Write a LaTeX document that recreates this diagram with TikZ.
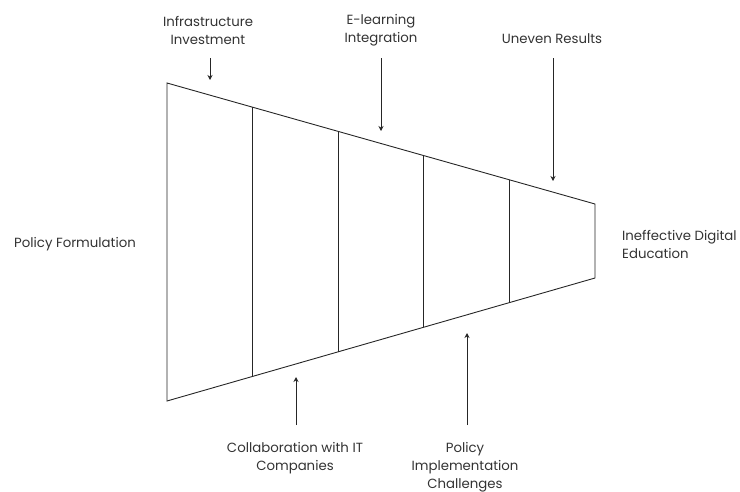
\documentclass[tikz,border=0pt]{standalone}
\usepackage{fontspec}
\setmainfont{Poppins}
\usetikzlibrary{arrows.meta,calc}
\begin{document}
\begin{tikzpicture}[x=1pt,y=-1pt,
  stage/.style={draw=black!85,line width=0.9pt},
  lbl/.style={font=\fontsize{13.3}{18}\selectfont,text=black!80,align=center,inner sep=0pt},
  ptr/.style={draw=black!85,line width=0.9pt,-{Stealth[length=5pt,width=5pt]}}]
\useasboundingbox (0,0) rectangle (740,491);
% funnel corners
\coordinate (tl) at (167,83);
\coordinate (bl) at (167,401);
\coordinate (tr) at (595,204);
\coordinate (br) at (595,278);
\draw[stage] (tl) -- (tr) -- (br) -- (bl) -- cycle;
% stage dividers
\foreach \i in {1,2,3,4}{
  \draw[stage] ($(tl)!\i/5!(tr)$) -- ($(bl)!\i/5!(br)$);
}
% labels
\node[lbl] (infra) at (208,30) {Infrastructure\\Investment};
\node[lbl] (elearn) at (381,30) {E-learning\\Integration};
\node[lbl] (uneven) at (552,39) {Uneven Results};
\node[lbl,anchor=west] (policy) at (14,244) {Policy Formulation};
\node[lbl,anchor=west,align=left] (ineff) at (622,244) {Ineffective Digital\\Education};
\node[lbl] (collab) at (295,458) {Collaboration with IT\\Companies};
\node[lbl] (impl) at (465,467) {Policy\\Implementation\\Challenges};
% pointer ends
\coordinate (s1) at (210,58);  \coordinate (a1) at (210,80);
\coordinate (s2) at (381,58);  \coordinate (a2) at (381,131);
\coordinate (s3) at (553,58);  \coordinate (a3) at (553,181);
\coordinate (s4) at (296,425); \coordinate (a4) at (296,377);
\coordinate (s5) at (467,425); \coordinate (a5) at (467,333);
\draw[ptr] (s1) -- (a1);
\draw[ptr] (s2) -- (a2);
\draw[ptr] (s3) -- (a3);
\draw[ptr] (s4) -- (a4);
\draw[ptr] (s5) -- (a5);
\end{tikzpicture}
\end{document}
